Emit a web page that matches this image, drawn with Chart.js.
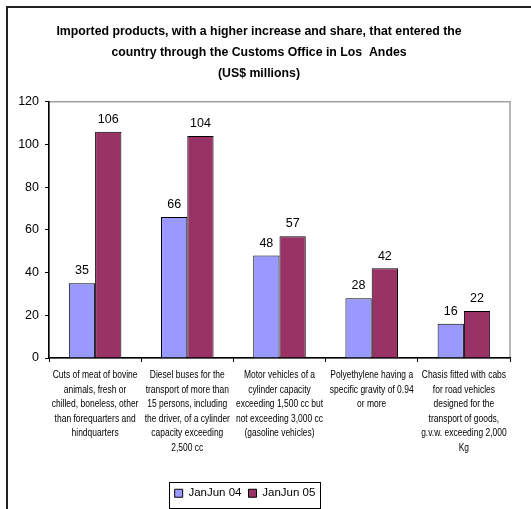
<!DOCTYPE html>
<html>
<head>
<meta charset="utf-8">
<script src="https://cdn.jsdelivr.net/npm/chart.js@4"></script>
<style>
  html, body { margin: 0; padding: 0; background: #fff; overflow: hidden; }
  #wrap { position: relative; width: 531px; height: 509px; }
  #frame { position: absolute; left: 6px; top: 6px; width: 600px; height: 600px; border: 2px solid #222; pointer-events: none; }
</style>
</head>
<body>
<div id="wrap">
  <canvas id="grafico" width="531" height="509"></canvas>
  <div id="frame"></div>
</div>
<script>
// categorias (uma linha por item do array)
const categorias = [
  ['Cuts of meat of bovine', 'animals, fresh or', 'chilled, boneless, other', 'than forequarters and', 'hindquarters'],
  ['Diesel buses for the', 'transport of more than', '15 persons, including', 'the driver, of a cylinder', 'capacity exceeding', '2,500 cc'],
  ['Motor vehicles of a', 'cylinder capacity', 'exceeding 1,500 cc but', 'not exceeding 3,000 cc', '(gasoline vehicles)'],
  ['Polyethylene having a', 'specific gravity of 0.94', 'or more'],
  ['Chasis fitted with cabs', 'for road vehicles', 'designed for the', 'transport of goods,', 'g.v.w. exceeding 2,000', 'Kg']
];
const serie04 = [35, 66, 48, 28, 16];
const serie05 = [106, 104, 57, 42, 22];
const nomesSeries = ['JanJun 04', 'JanJun 05'];
const titulo = [
  'Imported products, with a higher increase and share, that entered the',
  'country through the Customs Office in Los  Andes',
  '(US$ millions)'
];
const yMax = 120;
const yPasso = 20;

const fonte = "'Liberation Sans', Arial, sans-serif";
const desvioLegenda = -14; // a legenda do Excel nao fica bem centrada

// moldura cinza da area do grafico
const molduraArea = {
  id: 'molduraArea',
  beforeDraw(chart) {
    const { ctx, chartArea: a } = chart;
    ctx.save();
    ctx.strokeStyle = '#a0a0a0';
    ctx.lineWidth = 1.5;
    ctx.strokeRect(a.left, a.top, a.right - a.left, a.bottom - a.top);
    ctx.restore();
  }
};

// valores em cima das barras
const rotulosValores = {
  id: 'rotulosValores',
  afterDatasetsDraw(chart) {
    const { ctx } = chart;
    ctx.save();
    ctx.font = '12.5px ' + fonte;
    ctx.fillStyle = '#000';
    ctx.textAlign = 'center';
    ctx.textBaseline = 'bottom';
    chart.data.datasets.forEach((ds, i) => {
      chart.getDatasetMeta(i).data.forEach((bar, j) => {
        ctx.fillText(ds.data[j], bar.x, bar.y - 6);
      });
    });
    ctx.restore();
  }
};

// rotulos das categorias, estreitados como no Excel
const rotulosCategorias = {
  id: 'rotulosCategorias',
  afterDraw(chart) {
    const { ctx } = chart;
    const xs = chart.scales.x;
    const encolhe = 0.77;
    ctx.save();
    ctx.font = '11px ' + fonte;
    ctx.fillStyle = '#000';
    ctx.textAlign = 'center';
    ctx.textBaseline = 'middle';
    chart.data.labels.forEach((linhas, i) => {
      const cx = xs.getPixelForValue(i);
      linhas.forEach((txt, k) => {
        ctx.save();
        ctx.translate(cx, xs.top + 17 + k * 14.5);
        ctx.scale(encolhe, 1);
        ctx.fillText(txt, 0, 0);
        ctx.restore();
      });
    });
    ctx.restore();
  }
};

// desloca a legenda um pouco para a esquerda
const deslocaLegenda = {
  id: 'deslocaLegenda',
  afterLayout(chart) {
    const leg = chart.legend;
    if (!leg) return;
    leg.left += desvioLegenda;
    leg.right += desvioLegenda;
    leg.legendHitBoxes.forEach(b => { b.left += desvioLegenda; });
  }
};

// caixa em volta da legenda
const caixaLegenda = {
  id: 'caixaLegenda',
  afterDraw(chart) {
    const boxes = chart.legend && chart.legend.legendHitBoxes;
    if (!boxes || !boxes.length) return;
    const x1 = Math.min(...boxes.map(b => b.left)) - 6;
    const x2 = Math.max(...boxes.map(b => b.left + b.width)) + 4;
    const y1 = Math.min(...boxes.map(b => b.top)) - 6;
    const y2 = Math.max(...boxes.map(b => b.top + b.height)) + 8;
    const { ctx } = chart;
    ctx.save();
    ctx.strokeStyle = '#000';
    ctx.lineWidth = 1;
    ctx.strokeRect(Math.round(x1) + 0.5, Math.round(y1) + 0.5, Math.round(x2 - x1), Math.round(y2 - y1));
    ctx.restore();
  }
};

const ctx = document.getElementById('grafico').getContext('2d');

const grafico = new Chart(ctx, {
  type: 'bar',
  data: {
    labels: categorias,
    datasets: [{
      label: nomesSeries[0],
      data: serie04,
      backgroundColor: '#9999ff',
      borderColor: '#000',
      borderWidth: 1,
      categoryPercentage: 0.57,
      barPercentage: 1
    }, {
      label: nomesSeries[1],
      data: serie05,
      backgroundColor: '#993366',
      borderColor: '#000',
      borderWidth: 1,
      categoryPercentage: 0.57,
      barPercentage: 1
    }]
  },
  options: {
    responsive: false,
    animation: false,
    layout: { padding: { left: 8, right: 21, top: 6, bottom: 0 } },
    scales: {
      x: {
        grid: { display: true, offset: true, drawOnChartArea: false, drawTicks: true, tickLength: 4, color: '#000' },
        border: { display: true, color: '#000', width: 1.5 },
        ticks: { display: false },
        afterFit(scale) { scale.height = 122.5; }
      },
      y: {
        min: 0,
        max: yMax,
        grid: { display: true, drawOnChartArea: false, drawTicks: true, tickLength: 4, color: '#000' },
        border: { display: true, color: '#000', width: 1.5 },
        ticks: {
          stepSize: yPasso,
          color: '#000',
          padding: 6,
          font: { family: fonte, size: 12.5 }
        },
        afterFit(scale) { scale.width = 41; }
      }
    },
    plugins: {
      title: {
        display: true,
        text: titulo,
        color: '#000',
        font: { family: fonte, size: 12.3, weight: 'bold', lineHeight: 1.7 },
        padding: { top: 15, bottom: 18 }
      },
      legend: {
        position: 'bottom',
        labels: {
          color: '#000',
          boxWidth: 8,
          boxHeight: 8,
          padding: 7,
          font: { family: fonte, size: 11.5 }
        }
      },
      tooltip: { enabled: false }
    }
  },
  plugins: [deslocaLegenda, molduraArea, rotulosValores, rotulosCategorias, caixaLegenda]
});
</script>
</body>
</html>
